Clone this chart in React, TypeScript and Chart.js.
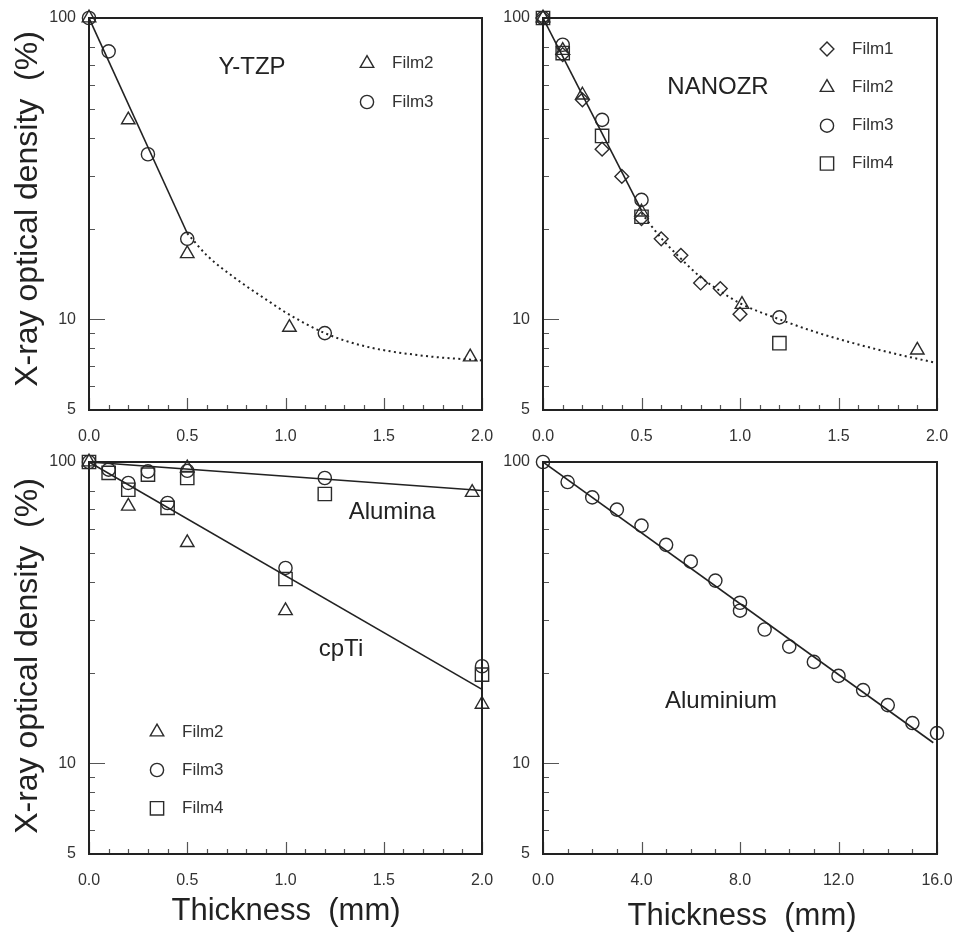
import React, { useEffect, useRef } from 'react';
import { Chart, registerables } from 'chart.js';

Chart.register(...registerables);

const FONT = '"Liberation Sans", Arial, Helvetica, sans-serif';

// ---------- axis ticks ----------
const yMajorTicks = [5, 10, 100];
const yInnerMajor = [10];
const yMinorTicks = [6, 7, 8, 9, 20, 30, 40, 50, 60, 70, 80];
const xMajorMm = [0, 0.5, 1.0, 1.5, 2.0];
const xMinorMm = [0.1, 0.2, 0.3, 0.4, 0.6, 0.7, 0.8, 0.9, 1.1, 1.2, 1.3, 1.4, 1.6, 1.7, 1.8, 1.9];
const xMajorAl = [0, 4, 8, 12, 16];
const xMinorAl = [1, 2, 3, 5, 6, 7, 9, 10, 11, 13, 14, 15];

// ---------- Y-TZP ----------
const ytzpFilm2X = [0, 0.2, 0.5, 1.02, 1.94];
const ytzpFilm2Y = [100, 45.9, 16.5, 9.4, 7.5];
const ytzpFilm3X = [0, 0.1, 0.3, 0.5, 1.2];
const ytzpFilm3Y = [100, 77.5, 35.3, 18.5, 9.0];
const ytzpFitX = [0, 0.5];
const ytzpFitY = [100, 19.3];
const ytzpTailX = [0.5, 0.6, 0.75, 0.9, 1.0, 1.2, 1.4, 1.7, 2.0];
const ytzpTailY = [19.3, 16.3, 13.6, 11.65, 10.55, 9.0, 8.15, 7.57, 7.3];

// ---------- NANOZR ----------
const nanoFilm1X = [0, 0.1, 0.2, 0.3, 0.4, 0.5, 0.6, 0.7, 0.8, 0.9, 1.0];
const nanoFilm1Y = [100, 75.6, 53.5, 36.7, 29.8, 21.6, 18.5, 16.3, 13.2, 12.65, 10.4];
const nanoFilm2X = [0, 0.1, 0.2, 0.5, 1.01, 1.9];
const nanoFilm2Y = [100, 78, 55.5, 22.7, 11.2, 7.9];
const nanoFilm3X = [0, 0.1, 0.3, 0.5, 1.2];
const nanoFilm3Y = [100, 81.5, 45.9, 24.9, 10.15];
const nanoFilm4X = [0, 0.1, 0.3, 0.5, 1.2];
const nanoFilm4Y = [100, 76.5, 40.6, 21.9, 8.33];
const nanoFitX = [0, 0.5];
const nanoFitY = [100, 23.0];
const nanoTailX = [0.5, 0.6, 0.7, 0.8, 0.9, 1.0, 1.2, 1.4, 1.6, 1.8, 2.0];
const nanoTailY = [22.5, 18.6, 15.9, 13.8, 12.4, 11.3, 10.0, 9.0, 8.25, 7.65, 7.16];

// ---------- Alumina / cpTi ----------
const tiFilm2X = [0, 0.2, 0.5, 0.5, 1.0, 1.95, 2.0];
const tiFilm2Y = [100, 71.3, 95.5, 54.0, 32.1, 79.2, 15.7];
const tiFilm3X = [0, 0.1, 0.2, 0.3, 0.4, 0.5, 1.0, 1.2, 2.0];
const tiFilm3Y = [100, 94.3, 85.2, 93.1, 73.1, 93.5, 44.5, 88.5, 21.0];
const tiFilm4X = [0, 0.1, 0.2, 0.3, 0.4, 0.5, 1.0, 1.2, 2.0];
const tiFilm4Y = [100, 92.0, 80.9, 90.8, 70.4, 88.5, 40.9, 78.3, 19.7];
const aluminaFitX = [0, 2.0];
const aluminaFitY = [100, 80.4];
const cptiFitX = [0, 2.0];
const cptiFitY = [100, 17.6];

// ---------- Aluminium ----------
const alX = [0, 1, 2, 3, 4, 5, 6, 7, 8, 8, 9, 10, 11, 12, 13, 14, 15, 16];
const alY = [100, 85.8, 76.3, 69.5, 61.5, 53.1, 46.7, 40.4, 34.1, 32.1, 27.8, 24.4, 21.7, 19.5, 17.5, 15.6, 13.6, 12.6];
const alFitX = [0, 15.85];
const alFitY = [100, 11.7];

// ---------- labels ----------
const yTitle = 'X-ray optical density  (%)';
const xTitle = 'Thickness  (mm)';

type Style = 'triangle' | 'circle' | 'rect' | 'rectRot';
interface Series { x: number[]; y: number[]; style: Style; }
interface Fit { x: number[]; y: number[]; dotted: boolean; }
interface Txt { text: string; x: number; y: number; size: number; align?: CanvasTextAlign; }
interface LegendItem { style: Style; label: string; x: number; y: number; }
interface Panel {
  area: { l: number; t: number; r: number; b: number };
  xMax: number;
  xMajor: number[];
  xMinor: number[];
  series: Series[];
  fits: Fit[];
  texts: Txt[];
  legend: LegendItem[];
}

const RADIUS: Record<Style, number> = { circle: 6.6, triangle: 7.8, rect: 9.4, rectRot: 6.9 };
const INK = '#2b2b2b';

const panels: Panel[] = [
  {
    area: { l: 89, t: 18, r: 482, b: 410 },
    xMax: 2, xMajor: xMajorMm, xMinor: xMinorMm,
    series: [
      { x: ytzpFilm2X, y: ytzpFilm2Y, style: 'triangle' },
      { x: ytzpFilm3X, y: ytzpFilm3Y, style: 'circle' },
    ],
    fits: [
      { x: ytzpFitX, y: ytzpFitY, dotted: false },
      { x: ytzpTailX, y: ytzpTailY, dotted: true },
    ],
    texts: [{ text: 'Y-TZP', x: 252, y: 67, size: 24 }],
    legend: [
      { style: 'triangle', label: 'Film2', x: 367, y: 63.5 },
      { style: 'circle', label: 'Film3', x: 367, y: 102 },
    ],
  },
  {
    area: { l: 543, t: 18, r: 937, b: 410 },
    xMax: 2, xMajor: xMajorMm, xMinor: xMinorMm,
    series: [
      { x: nanoFilm1X, y: nanoFilm1Y, style: 'rectRot' },
      { x: nanoFilm2X, y: nanoFilm2Y, style: 'triangle' },
      { x: nanoFilm3X, y: nanoFilm3Y, style: 'circle' },
      { x: nanoFilm4X, y: nanoFilm4Y, style: 'rect' },
    ],
    fits: [
      { x: nanoFitX, y: nanoFitY, dotted: false },
      { x: nanoTailX, y: nanoTailY, dotted: true },
    ],
    texts: [{ text: 'NANOZR', x: 718, y: 87, size: 24 }],
    legend: [
      { style: 'rectRot', label: 'Film1', x: 827, y: 49 },
      { style: 'triangle', label: 'Film2', x: 827, y: 87.5 },
      { style: 'circle', label: 'Film3', x: 827, y: 125.7 },
      { style: 'rect', label: 'Film4', x: 827, y: 163.5 },
    ],
  },
  {
    area: { l: 89, t: 462, r: 482, b: 854 },
    xMax: 2, xMajor: xMajorMm, xMinor: xMinorMm,
    series: [
      { x: tiFilm2X, y: tiFilm2Y, style: 'triangle' },
      { x: tiFilm3X, y: tiFilm3Y, style: 'circle' },
      { x: tiFilm4X, y: tiFilm4Y, style: 'rect' },
    ],
    fits: [
      { x: aluminaFitX, y: aluminaFitY, dotted: false },
      { x: cptiFitX, y: cptiFitY, dotted: false },
    ],
    texts: [
      { text: 'Alumina', x: 392, y: 512.5, size: 24 },
      { text: 'cpTi', x: 341, y: 649, size: 24 },
    ],
    legend: [
      { style: 'triangle', label: 'Film2', x: 157, y: 732 },
      { style: 'circle', label: 'Film3', x: 157, y: 770 },
      { style: 'rect', label: 'Film4', x: 157, y: 808.3 },
    ],
  },
  {
    area: { l: 543, t: 462, r: 937, b: 854 },
    xMax: 16, xMajor: xMajorAl, xMinor: xMinorAl,
    series: [{ x: alX, y: alY, style: 'circle' }],
    fits: [{ x: alFitX, y: alFitY, dotted: false }],
    texts: [{ text: 'Aluminium', x: 721, y: 701.5, size: 24 }],
    legend: [],
  },
];

const W = 954;
const H = 933;
const YAXIS_W = 50;
const XAXIS_H = 40;

function drawMarker(ctx: CanvasRenderingContext2D, style: Style, x: number, y: number) {
  const r = RADIUS[style];
  ctx.beginPath();
  if (style === 'circle') {
    ctx.arc(x, y, r, 0, Math.PI * 2);
  } else if (style === 'triangle') {
    for (let i = 0; i < 3; i++) {
      const a = (i * 2 * Math.PI) / 3;
      const px = x + Math.sin(a) * r;
      const py = y - Math.cos(a) * r;
      if (i === 0) ctx.moveTo(px, py); else ctx.lineTo(px, py);
    }
    ctx.closePath();
  } else if (style === 'rect') {
    const s = Math.SQRT1_2 * r;
    ctx.rect(x - s, y - s, 2 * s, 2 * s);
  } else {
    ctx.moveTo(x - r, y);
    ctx.lineTo(x, y - r);
    ctx.lineTo(x + r, y);
    ctx.lineTo(x, y + r);
    ctx.closePath();
  }
  ctx.stroke();
}

function makeDecor(p: Panel) {
  return {
    id: 'panelDecor',
    afterDatasetsDraw(chart: any) {
      const { ctx, chartArea: a, scales } = chart;
      const xs = scales.x;
      const ys = scales.y;
      ctx.save();
      ctx.lineCap = 'butt';
      // inward tick marks
      ctx.strokeStyle = '#555';
      ctx.lineWidth = 1.2;
      ctx.beginPath();
      yMinorTicks.forEach((v) => {
        const py = Math.round(ys.getPixelForValue(v)) + 0.5;
        ctx.moveTo(a.left, py);
        ctx.lineTo(a.left + 6, py);
      });
      yInnerMajor.forEach((v) => {
        const py = Math.round(ys.getPixelForValue(v)) + 0.5;
        ctx.moveTo(a.left, py);
        ctx.lineTo(a.left + 16, py);
      });
      p.xMinor.forEach((v) => {
        const px = Math.round(xs.getPixelForValue(v)) + 0.5;
        ctx.moveTo(px, a.bottom);
        ctx.lineTo(px, a.bottom - 5);
      });
      p.xMajor.forEach((v) => {
        const px = Math.round(xs.getPixelForValue(v)) + 0.5;
        ctx.moveTo(px, a.bottom);
        ctx.lineTo(px, a.bottom - 12);
      });
      ctx.stroke();
      // frame
      ctx.strokeStyle = '#222';
      ctx.lineWidth = 2;
      ctx.strokeRect(a.left, a.top, a.right - a.left, a.bottom - a.top);
      // annotations
      ctx.fillStyle = '#222';
      ctx.textBaseline = 'middle';
      p.texts.forEach((t) => {
        ctx.font = `${t.size}px ${FONT}`;
        ctx.textAlign = t.align || 'center';
        ctx.fillText(t.text, t.x, t.y);
      });
      // legend
      ctx.strokeStyle = INK;
      ctx.lineWidth = 1.4;
      ctx.font = `17px ${FONT}`;
      ctx.textAlign = 'left';
      ctx.fillStyle = '#333';
      p.legend.forEach((it) => {
        drawMarker(ctx, it.style, it.x, it.y);
        ctx.fillText(it.label, it.x + 25, it.y);
      });
      ctx.restore();
    },
  };
}

function PanelChart({ panel }: { panel: Panel }) {
  const ref = useRef<HTMLCanvasElement | null>(null);
  useEffect(() => {
    if (!ref.current) return;
    const p = panel;
    const datasets: any[] = [];
    p.fits.forEach((f) => {
      datasets.push({
        type: 'line',
        data: f.x.map((x, i) => ({ x, y: f.y[i] })),
        showLine: true,
        pointRadius: 0,
        borderColor: '#222',
        borderWidth: f.dotted ? 2 : 1.6,
        borderDash: f.dotted ? [2, 3.4] : [],
        borderCapStyle: 'butt',
        cubicInterpolationMode: f.dotted ? 'monotone' : 'default',
        fill: false,
      });
    });
    p.series.forEach((s) => {
      datasets.push({
        type: 'scatter',
        data: s.x.map((x, i) => ({ x, y: s.y[i] })),
        showLine: false,
        pointStyle: s.style,
        pointRadius: RADIUS[s.style],
        pointBorderWidth: 1.4,
        borderColor: INK,
        backgroundColor: 'rgba(0,0,0,0)',
        pointBackgroundColor: 'rgba(0,0,0,0)',
        clip: false,
      });
    });
    const tickFont = { family: FONT, size: 16 };
    const chart = new Chart(ref.current, {
      type: 'scatter',
      data: { datasets },
      plugins: [makeDecor(p)],
      options: {
        animation: false,
        responsive: false,
        devicePixelRatio: 1,
        events: [],
        layout: {
          padding: {
            left: p.area.l - YAXIS_W,
            top: p.area.t,
            right: W - p.area.r,
            bottom: H - p.area.b - XAXIS_H,
          },
        },
        plugins: { legend: { display: false }, tooltip: { enabled: false }, title: { display: false } },
        scales: {
          x: {
            type: 'linear',
            min: 0,
            max: p.xMax,
            afterBuildTicks: (s: any) => { s.ticks = p.xMajor.map((v) => ({ value: v })); },
            afterFit: (s: any) => {
              s.height = XAXIS_H;
              s.paddingLeft = 0;
              s.paddingRight = 0;
              s.paddingTop = 0;
              s.paddingBottom = 0;
            },
            ticks: {
              callback: (v: any) => Number(v).toFixed(1),
              font: tickFont,
              color: '#333',
              padding: 17,
              maxRotation: 0,
              autoSkip: false,
            },
            grid: { display: false, drawTicks: false },
            border: { display: false },
          },
          y: {
            type: 'logarithmic',
            min: 5,
            max: 100,
            afterBuildTicks: (s: any) => { s.ticks = yMajorTicks.map((v) => ({ value: v })); },
            afterFit: (s: any) => {
              s.width = YAXIS_W;
              s.paddingLeft = 0;
              s.paddingRight = 0;
              s.paddingTop = 0;
              s.paddingBottom = 0;
            },
            ticks: {
              callback: (v: any) => String(v),
              font: tickFont,
              color: '#333',
              padding: 13,
              autoSkip: false,
            },
            grid: { display: false, drawTicks: false },
            border: { display: false },
          },
        },
      } as any,
    });
    return () => chart.destroy();
  }, [panel]);
  return (
    <canvas
      ref={ref}
      width={W}
      height={H}
      style={{ position: 'absolute', left: 0, top: 0, width: W, height: H }}
    />
  );
}

const titleBase: React.CSSProperties = {
  position: 'absolute',
  fontFamily: FONT,
  color: '#222',
  whiteSpace: 'pre',
  lineHeight: 1,
};

export default function App() {
  return (
    <div style={{ position: 'absolute', left: 0, top: 0, width: W, height: H, background: '#fff', overflow: 'hidden' }}>
      {panels.map((p, i) => (
        <PanelChart key={i} panel={p} />
      ))}
      <div style={{ ...titleBase, fontSize: 32, left: 26, top: 209, transform: 'translate(-50%, -50%) rotate(-90deg)' }}>{yTitle}</div>
      <div style={{ ...titleBase, fontSize: 32, left: 26, top: 656, transform: 'translate(-50%, -50%) rotate(-90deg)' }}>{yTitle}</div>
      <div style={{ ...titleBase, fontSize: 31, left: 286, top: 909, transform: 'translate(-50%, -50%)' }}>{xTitle}</div>
      <div style={{ ...titleBase, fontSize: 31, left: 742, top: 914, transform: 'translate(-50%, -50%)' }}>{xTitle}</div>
    </div>
  );
}
